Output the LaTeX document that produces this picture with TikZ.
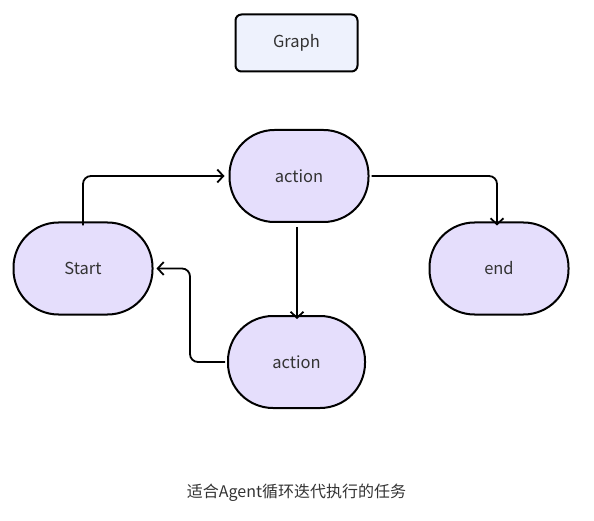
\documentclass[tikz,border=0pt]{standalone}
\usepackage{fontspec}
\setmainfont{Noto Sans CJK SC}
\usetikzlibrary{arrows.meta}
\definecolor{nodefill}{HTML}{E5DEFC}
\definecolor{graphfill}{HTML}{EEF2FD}
\definecolor{txt}{HTML}{333333}
\tikzset{
  stadium/.style={draw=black, line width=2pt, fill=nodefill, rounded corners=45pt,
    minimum width=139pt, minimum height=92pt, inner sep=0pt, text=txt, font=\fontsize{16.5}{19}\selectfont},
  titlebox/.style={draw=black, line width=2pt, fill=graphfill, rounded corners=6pt,
    minimum width=122pt, minimum height=57pt, inner sep=0pt, text=txt, font=\fontsize{16.5}{19}\selectfont},
  conn/.style={draw=black, line width=1.8pt, rounded corners=8pt,
    -{Straight Barb[length=6pt,width=13pt,line width=1.8pt]}}
}
\begin{document}
\begin{tikzpicture}[x=1pt,y=-1pt]
\useasboundingbox (0,0) rectangle (594,521);
\node[titlebox] (graph) at (296.5,43) {Graph};
\node[stadium] (act1) at (299,176) {action};
\node[stadium] (start) at (83,268.5) {Start};
\node[stadium] (end) at (499,268.5) {end};
\node[stadium, minimum width=137pt] (act2) at (296.5,362) {action};
\node[text=txt, font=\fontsize{16}{19}\selectfont] (cap) at (296.5,493) {适合Agent循环迭代执行的任务};
\draw[conn] ([yshift=-4pt]start.north) |- ([xshift=-4pt]act1.west);
\draw[conn] ([xshift=2pt]act1.east) -| ([yshift=-4pt]end.north -| 497,0);
\draw[conn] ([yshift=-4pt]act1.south -| 297,0) -- ([yshift=-4pt]act2.north -| 297,0);
\draw[conn] ([xshift=-2pt]act2.west) -| (190,268.5) -- ([xshift=3pt]start.east);
\end{tikzpicture}
\end{document}
